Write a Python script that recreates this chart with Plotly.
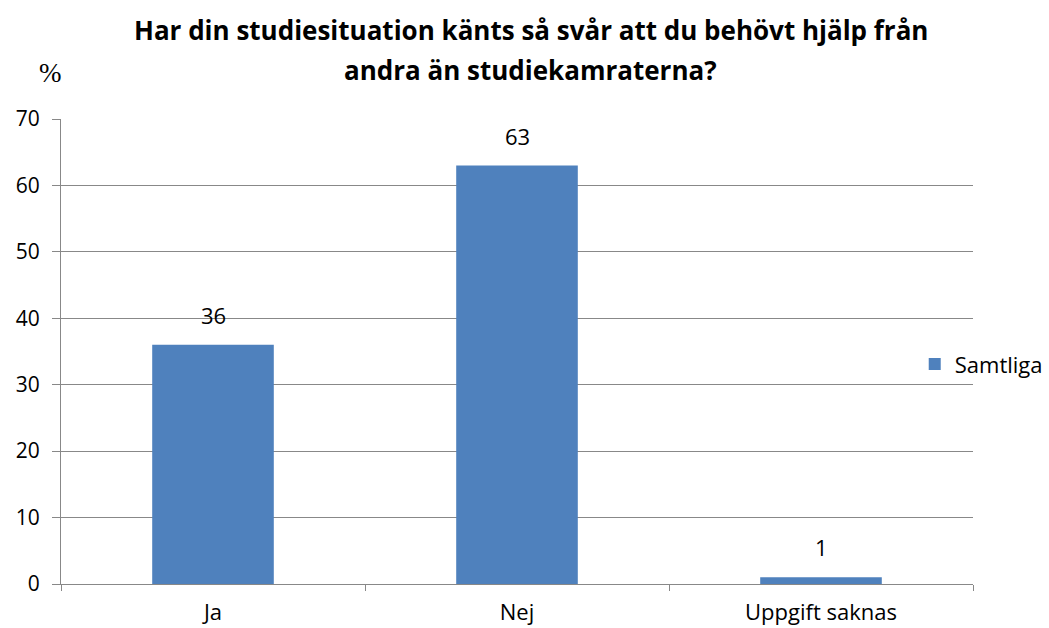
import plotly.graph_objects as go

categories = ["Ja", "Nej", "Uppgift saknas"]
values = [36, 63, 1]
series_name = "Samtliga"
title_lines = ["Har din studiesituation känts så svår att du behövt hjälp från",
               "andra än studiekamraterna?"]

grid = "#888888"
font = "Open Sans"

fig = go.Figure()

fig.add_trace(go.Bar(
    x=categories,
    y=values,
    name=series_name,
    width=0.4,
    marker=dict(color="#4F81BD", line=dict(width=0)),
    showlegend=True,
))

# === Dataetiketter ovanför staplarna
for cat, val in zip(categories, values):
    fig.add_annotation(x=cat, y=val, text=str(val), showarrow=False,
                       yanchor="bottom", yshift=13,
                       font=dict(family=font, size=22, color="black"))

# === Titel (två rader, Excel-liknande radavstånd)
fig.add_annotation(text="<b>" + title_lines[0] + "</b>", xref="paper", yref="paper",
                   x=0.515, y=1.191, yanchor="middle", showarrow=False,
                   font=dict(family=font, size=26, color="black"))
fig.add_annotation(text="<b>" + title_lines[1] + "</b>", xref="paper", yref="paper",
                   x=0.515, y=1.105, yanchor="middle", showarrow=False,
                   font=dict(family=font, size=26, color="black"))
fig.add_annotation(text="%", xref="paper", yref="paper",
                   x=-0.012, y=1.099, xanchor="center", yanchor="middle", showarrow=False,
                   font=dict(family="Liberation Serif", size=27, color="black"))

fig.update_xaxes(
    type="category",
    automargin=False,
    showgrid=False,
    showline=True,
    linecolor=grid,
    linewidth=1,
    ticks="outside",
    tickson="boundaries",
    ticklen=6,
    tickcolor=grid,
    ticklabelstandoff=9,
    tickfont=dict(family=font, size=22, color="black"),
)
fig.update_yaxes(
    range=[0, 70],
    dtick=10,
    automargin=False,
    showgrid=True,
    gridcolor=grid,
    gridwidth=1,
    showline=True,
    linecolor=grid,
    linewidth=1,
    ticks="outside",
    ticklen=8,
    tickcolor=grid,
    ticklabelstandoff=8,
    zeroline=False,
    tickfont=dict(family=font, size=21, color="black"),
)

fig.update_layout(
    width=1049,
    height=628,
    margin=dict(l=61, r=76, t=119, b=44, autoexpand=False),
    plot_bgcolor="white",
    paper_bgcolor="white",
    template="plotly_white",
    legend=dict(
        xref="container", yref="container",
        x=0.872, y=0.42,
        xanchor="left", yanchor="middle",
        font=dict(family=font, size=22, color="black"),
        bgcolor="rgba(0,0,0,0)",
        itemwidth=30,
    ),
)

fig.write_html("out.html", config={"displayModeBar": False},
               post_script="document.body.style.margin='0';")
